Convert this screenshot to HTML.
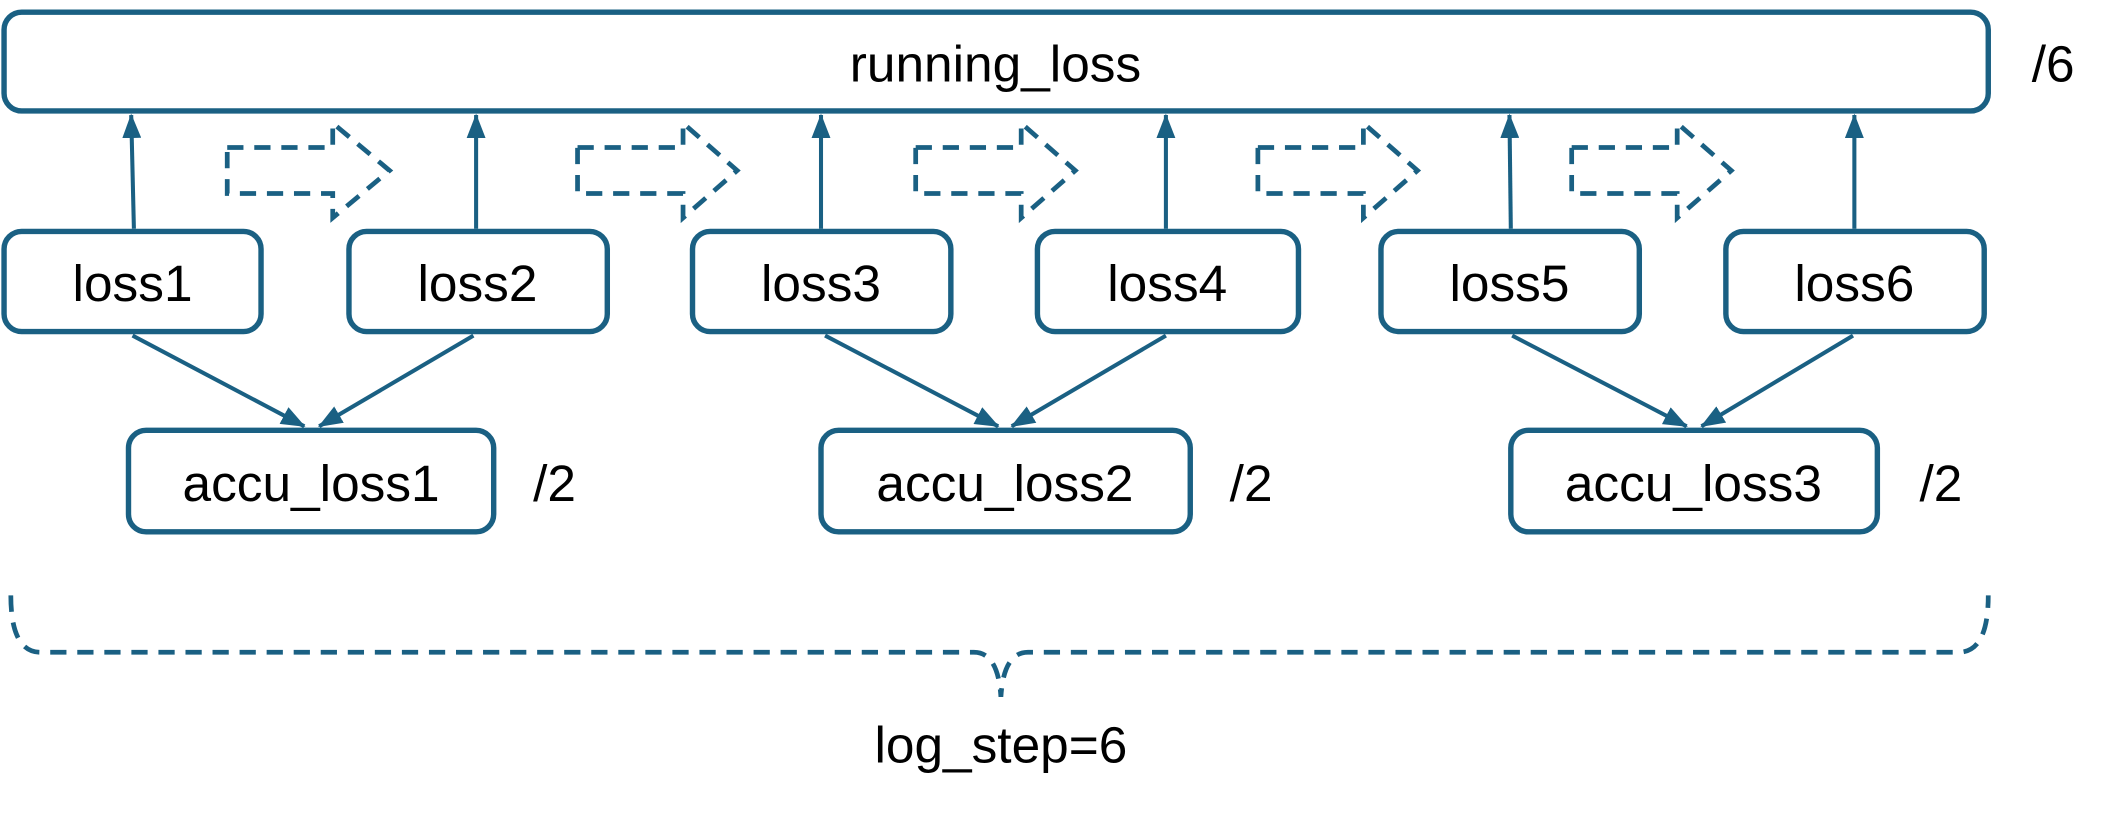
<!DOCTYPE html>
<html><head><meta charset="utf-8"><style>
html,body{margin:0;padding:0;background:#fff;}
svg{display:block;}
text{font-family:"Liberation Sans",sans-serif;fill:#000;}
</style></head><body>
<svg width="2110" height="816" viewBox="0 0 1560 603" preserveAspectRatio="none" xmlns="http://www.w3.org/2000/svg">
<defs>
<marker id="ah" markerWidth="18" markerHeight="14" refX="17" refY="7" orient="auto" markerUnits="userSpaceOnUse" viewBox="0 0 18 14">
<path d="M0,0 L18,7 L0,14 Z" fill="#1a6083"/>
</marker>
</defs>
<g fill="none" stroke="#1a6083" stroke-width="4">
<rect x="3" y="9" width="1467" height="73" rx="13"/>
<rect x="3" y="171" width="190" height="74" rx="13"/>
<rect x="258" y="171" width="191" height="74" rx="13"/>
<rect x="512" y="171" width="191" height="74" rx="13"/>
<rect x="767" y="171" width="193" height="74" rx="13"/>
<rect x="1021" y="171" width="191" height="74" rx="13"/>
<rect x="1276" y="171" width="191" height="74" rx="13"/>
<rect x="95" y="318" width="270" height="75" rx="13"/>
<rect x="607" y="318" width="273" height="75" rx="13"/>
<rect x="1117" y="318" width="271" height="75" rx="13"/>
</g>
<g stroke="#1a6083" stroke-width="3" fill="none">
<line x1="99" y1="169" x2="97" y2="85" marker-end="url(#ah)"/>
<line x1="352" y1="169" x2="352" y2="85" marker-end="url(#ah)"/>
<line x1="607" y1="169" x2="607" y2="85" marker-end="url(#ah)"/>
<line x1="862" y1="169" x2="862" y2="85" marker-end="url(#ah)"/>
<line x1="1117" y1="169" x2="1116" y2="85" marker-end="url(#ah)"/>
<line x1="1371" y1="169" x2="1371" y2="85" marker-end="url(#ah)"/>
<line x1="98" y1="248" x2="225" y2="315" marker-end="url(#ah)"/>
<line x1="350" y1="248" x2="236" y2="315" marker-end="url(#ah)"/>
<line x1="610" y1="248" x2="738" y2="315" marker-end="url(#ah)"/>
<line x1="862" y1="248" x2="748" y2="315" marker-end="url(#ah)"/>
<line x1="1118" y1="248" x2="1247" y2="315" marker-end="url(#ah)"/>
<line x1="1370" y1="248" x2="1258" y2="315" marker-end="url(#ah)"/>
</g>
<g stroke="#1a6083" stroke-width="3.5" fill="none" stroke-dasharray="12,8">
<path d="M168,109 H246 V91 L288,126 L246,161 V143 H168 Z"/>
<path d="M427,109 H505 V91 L545,126 L505,161 V143 H427 Z"/>
<path d="M677,109 H755 V91 L795,126 L755,161 V143 H677 Z"/>
<path d="M930,109 H1008 V91 L1048,126 L1008,161 V143 H930 Z"/>
<path d="M1162,109 H1240 V91 L1280,126 L1240,161 V143 H1162 Z"/>
<path d="M8,440 Q8,482 30,482 H720 Q738,482 740,515 Q742,482 760,482 H1448 Q1470,482 1470,440"/>
</g>
<g font-size="38" text-anchor="middle" dominant-baseline="central">
<text x="736" y="47">running_loss</text>
<text x="98" y="209">loss1</text>
<text x="353" y="209">loss2</text>
<text x="607" y="209">loss3</text>
<text x="863" y="209">loss4</text>
<text x="1116" y="209">loss5</text>
<text x="1371" y="209">loss6</text>
<text x="230" y="357">accu_loss1</text>
<text x="743" y="357">accu_loss2</text>
<text x="1252" y="357">accu_loss3</text>
<text x="1518" y="47">/6</text>
<text x="410" y="357">/2</text>
<text x="925" y="357">/2</text>
<text x="1435" y="357">/2</text>
<text x="740" y="550">log_step=6</text>
</g>
</svg>
</body></html>
